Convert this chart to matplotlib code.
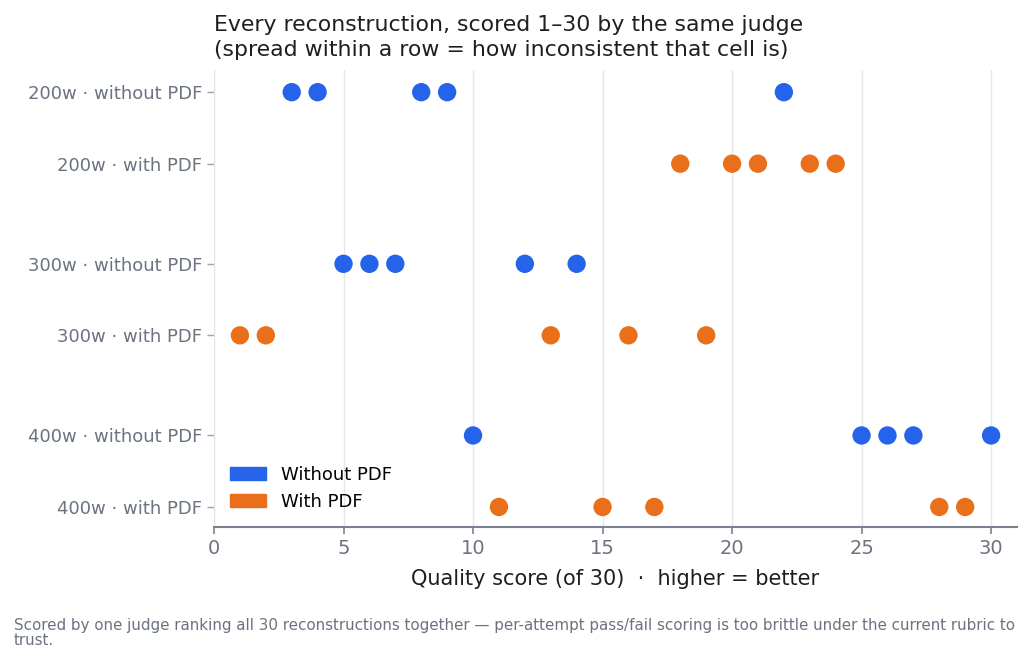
import matplotlib
matplotlib.use("Agg")

import matplotlib.pyplot as plt
from matplotlib.patches import Patch

plt.rcParams["font.family"] = ["DejaVu Sans"]

# --- data ---
row_labels = [
    "200w · without PDF",
    "200w · with PDF",
    "300w · without PDF",
    "300w · with PDF",
    "400w · without PDF",
    "400w · with PDF",
]
row_pos = [0, 1, 2.4, 3.4, 4.8, 5.8]
row_is_pdf = [False, True, False, True, False, True]
row_scores = [
    [3, 4, 8, 9, 22],
    [18, 20, 21, 23, 24],
    [5, 6, 7, 12, 14],
    [1, 2, 13, 16, 19],
    [10, 25, 26, 27, 30],
    [11, 15, 17, 28, 29],
]
x_ticks = [0, 5, 10, 15, 20, 25, 30]

BLUE = "#2563eb"
ORANGE = "#ea6f1a"
GRID = "#e5e7eb"
TICK = "#6b7280"
DARK = "#1f1f1f"

fig = plt.figure(figsize=(10.32, 6.66), dpi=100)
ax = fig.add_axes([214 / 1032, 1 - 527 / 666, (1017 - 214) / 1032, (527 - 70) / 666])

for pos, scores, pdf in zip(row_pos, row_scores, row_is_pdf):
    ax.scatter(scores, [pos] * len(scores), s=175, color=ORANGE if pdf else BLUE,
               edgecolors="none", zorder=3)

ax.set_xlim(0, 31)
ax.set_ylim(5.8 + 0.28, -0.31)
ax.set_xticks(x_ticks)
ax.set_yticks(row_pos)
ax.set_yticklabels(row_labels)
ax.tick_params(axis="y", colors=TICK, labelsize=13, length=5, width=1, color="#9ca3af")
ax.tick_params(axis="x", colors=TICK, labelsize=14, length=5, width=1.2, color="#7b8190")
ax.grid(axis="x", color=GRID, linewidth=1, zorder=0)
ax.set_axisbelow(True)

for side in ["top", "right"]:
    ax.spines[side].set_visible(False)
ax.spines["left"].set_color(GRID)
ax.spines["bottom"].set_color("#7b8190")
ax.spines["bottom"].set_linewidth(1.5)

ax.set_xlabel("Quality score (of 30)  ·  higher = better", fontsize=15, color=DARK, labelpad=8)
ax.set_title("Every reconstruction, scored 1–30 by the same judge\n"
             "(spread within a row = how inconsistent that cell is)",
             loc="left", fontsize=15.8, color=DARK, pad=10, linespacing=1.3)

handles = [Patch(color=BLUE, label="Without PDF"), Patch(color=ORANGE, label="With PDF")]
ax.legend(handles=handles, loc="lower left", frameon=False, fontsize=13,
          handlelength=2.0, handleheight=0.7, handletextpad=0.8,
          borderaxespad=0.5, labelspacing=0.5)

fig.text(14 / 1032, 1 - 633 / 666,
         "Scored by one judge ranking all 30 reconstructions together — per-attempt pass/fail "
         "scoring is too brittle under the current rubric to\ntrust.",
         fontsize=10.9, color=TICK, ha="left", va="center", linespacing=0.95)

fig.savefig("out.png", dpi=100)
